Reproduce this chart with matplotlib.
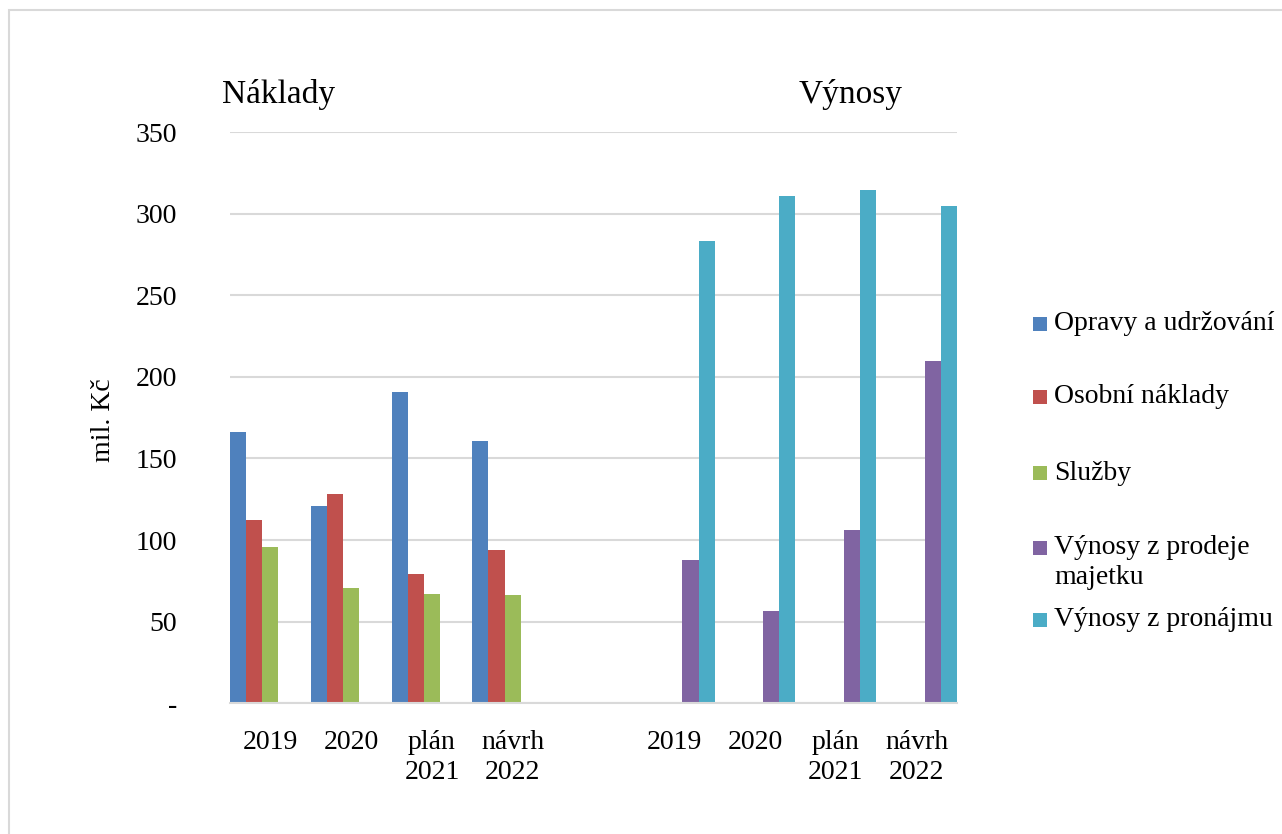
import numpy as np
import matplotlib
matplotlib.use("Agg")
import matplotlib.pyplot as plt
from matplotlib.patches import Rectangle

plt.rcParams['font.family'] = ['Liberation Serif', 'DejaVu Serif']

categories = ["2019", "2020", "plán\n2021", "návrh\n2022", "",
              "2019", "2020", "plán\n2021", "návrh\n2022"]
series_names = ["Opravy a udržování", "Osobní náklady", "Služby",
                "Výnosy z prodeje\nmajetku", "Výnosy z pronájmu"]
colors = ["#4F81BD", "#C0504D", "#9BBB59", "#8064A2", "#4BACC6"]
nan = np.nan
opravy = [166, 121, 190.5, 161, nan, nan, nan, nan, nan]
osobni = [112.6, 128, 79.3, 94, nan, nan, nan, nan, nan]
sluzby = [96, 70.7, 66.8, 66.5, nan, nan, nan, nan, nan]
prodej = [nan, nan, nan, nan, nan, 88, 56.3, 106, 210]
pronajem = [nan, nan, nan, nan, nan, 283.5, 310.5, 314.6, 304.6]
series = [opravy, osobni, sluzby, prodej, pronajem]
yticks = [0, 50, 100, 150, 200, 250, 300, 350]
ytick_labels = ["-", "50", "100", "150", "200", "250", "300", "350"]
group_titles = ["Náklady", "Výnosy"]
ylabel = "mil. Kč"

fig = plt.figure(figsize=(12.82, 8.34), dpi=100)
ax = fig.add_axes([230/1282, 1-703.3/834, (957-230)/1282, (703.3-132)/834])

x = np.arange(len(categories))
n = len(series)
w = 1.0 / n
for i, (vals, c) in enumerate(zip(series, colors)):
    ax.bar(x + (i - 2) * w, vals, width=w, color=c, edgecolor='none', zorder=3)

ax.set_xlim(-0.5, len(categories) - 0.5)
ax.set_ylim(0, 350)
ax.set_yticks(yticks)
ax.set_yticklabels(ytick_labels)
ax.set_xticks(x)
ax.set_xticklabels(categories, linespacing=1.3)
ax.tick_params(axis='y', length=0, pad=38, labelsize=20)
ax.tick_params(axis='x', length=0, pad=19, labelsize=20)
ax.yaxis.grid(True, color='#d9d9d9', linewidth=1.5, zorder=0)
ax.set_axisbelow(True)
for s in ['top', 'right', 'left']:
    ax.spines[s].set_visible(False)
ax.spines['bottom'].set_color('#d9d9d9')
ax.spines['bottom'].set_linewidth(1.5)
ax.spines['bottom'].set_zorder(4)

fig.text(104/1282, 1-420/834, ylabel, rotation=90, ha='center', va='center', fontsize=20)
fig.text(222/1282, 1-103/834, group_titles[0], ha='left', va='baseline', fontsize=24)
fig.text(799/1282, 1-103/834, group_titles[1], ha='left', va='baseline', fontsize=24)

# legend
leg_y = [324, 397, 473, 548, 620]
for name, c, yy in zip(series_names, colors, leg_y):
    fig.add_artist(Rectangle((1033/1282, 1-(yy+7)/834), 14/1282, 14/834,
                             transform=fig.transFigure, facecolor=c, edgecolor='none'))
    for k, line in enumerate(name.split("\n")):
        fig.text(1054/1282, 1-(yy + 30*k)/834, line, ha='left', va='center', fontsize=20)

# outer border
fig.add_artist(Rectangle((9/1282, -0.01), 1.02, 1-10/834 + 0.01, transform=fig.transFigure,
                         facecolor='none', edgecolor='#d9d9d9', linewidth=1.5))

fig.savefig("out.png", dpi=100)
